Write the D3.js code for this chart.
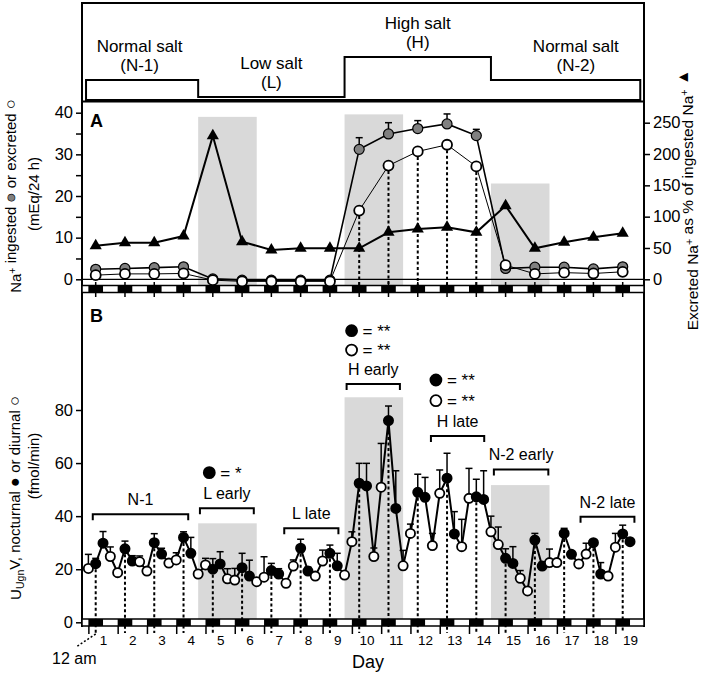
<!DOCTYPE html>
<html>
<head>
<meta charset="utf-8">
<script src="https://cdn.jsdelivr.net/npm/d3@7"></script>
<style>
  body { margin: 0; background: #fff; }
  svg { font-family: "Liberation Sans", Arial, sans-serif; }
</style>
</head>
<body>
<svg id="chart" width="709" height="674"></svg>
<script>
// ---------- data ----------
var days = d3.range(1, 20);

// panel A : Na+ ingested (grey) / excreted (open), mEq/24 h ; excreted as % of ingested (triangles)
var naIngested    = [2.4, 2.6, 2.8, 3.0, 0.1, -0.2, -0.2, -0.2, -0.2, 31.2, 34.9, 36.2, 37.3, 34.5, 2.6, 2.9, 2.9, 2.5, 3.0];
var naIngestedErr = [0.3, 0.3, 0.3, 0.3, 0, 0, 0, 0, 0, 2.8, 2.7, 1.9, 2.4, 1.5, 0.4, 0.3, 0.3, 0.3, 0.3];
var naExcreted    = [1.0, 1.3, 1.3, 1.4, -0.2, -0.5, -0.5, -0.5, -0.5, 16.5, 27.3, 30.7, 32.3, 27.1, 3.4, 1.3, 1.6, 1.4, 1.8];
var naPercent     = [53.6, 58.4, 58.4, 69, 229, 60, 46.8, 49.5, 49.5, 49.5, 75, 80.3, 83, 75, 117.5, 49.5, 59, 67, 73.4];
var dottedDaysA   = [10, 11, 12, 13, 14];

// panel B : UUgnV every 6 h starting at day 0.75 (fmol/min)
var bStart = 0.75, bStep = 0.25;
var ugnV = [20.3, 22.1, 29.8, 24.8, 18.7, 27.7, 23.1, 22.8, 19.3, 30.0,
            25.7, 22.3, 23.5, 32.0, 26.0, 18.2, 21.6, 20.0, 22.0, 16.4,
            15.9, 20.6, 17.4, 15.3, 17.0, 19.5, 18.2, 14.7, 21.2, 27.9,
            19.3, 17.4, 23.1, 26.0, 21.3, 17.8, 30.4, 52.4, 51.4, 24.8,
            50.9, 76.0, 42.9, 21.3, 33.5, 49.0, 47.1, 28.9, 48.6, 54.3,
            33.3, 28.5, 46.7, 47.3, 46.3, 34.1, 29.3, 24.1, 22.2, 16.6,
            11.8, 31.0, 21.2, 22.5, 22.5, 33.5, 25.6, 22.0, 25.7, 30.0,
            18.2, 17.4, 28.3, 33.3, 30.4];
var ugnVErr = [5.3, 2, 4.4, 3.6, 1, 2.9, 2, 2.2, 1, 3.4,
               2.2, 1, 2.7, 2.1, 6, 1, 2.5, 4, 4.6, 3.8,
               4.4, 5.4, 6, 1.5, 7.7, 2.7, 2, 1, 2.3, 3.4,
               1.5, 1, 4.1, 3.1, 4.7, 1, 3.7, 7.5, 8.5, 3.2,
               16.5, 5.5, 14.2, 5.8, 3.5, 6.8, 7.5, 4.6, 8.8, 9.4,
               8.4, 10.3, 11.3, 6.6, 10.8, 5.9, 6.6, 3.6, 6.3, 2.9,
               1, 2.5, 1.5, 5.1, 1, 1.9, 1, 1, 4.1, 1,
               4.3, 1, 5.2, 3.3, 1];

// diet phases (header)
var phaseNames = ["Normal salt", "Low salt", "High salt", "Normal salt"];
var phaseCodes = ["(N-1)", "(L)", "(H)", "(N-2)"];
var phaseStart = [0.67, 4.5, 9.5, 14.5];
var phaseEnd   = [4.5, 9.5, 14.5, 19.6];
var phaseLevel = ["normal", "low", "high", "normal"];
var phaseLabelDay = [2.5, 7, 12, 17.4];

// shaded periods (start day, end day, top value)
var shadeStart = [4.5, 9.5, 14.5];
var shadeEnd   = [6.5, 11.5, 16.5];
var shadeTopA  = [39.0, 39.6, 23.0];
var shadeTopB  = [37.3, 84.8, 51.7];

// brackets in panel B
var brLabels = ["N-1", "L early", "L late", "H early", "H late", "N-2 early", "N-2 late"];
var brStart  = [0.9, 4.56, 7.44, 9.57, 12.45, 14.6, 17.56];
var brEnd    = [4.16, 6.4, 9.29, 11.39, 14.27, 16.46, 19.4];
var brLevel  = [40.7, 43, 35.4, 89.8, 70.2, 57.6, 39.8];

// significance marks in panel B
var sigDay   = [4.88, 9.74, 9.74, 12.62, 12.62];
var sigLevel = [56.4, 109.9, 102.6, 91.3, 83.5];
var sigKind  = ["noct", "noct", "diur", "noct", "diur"];
var sigText  = ["= *", "= **", "= **", "= **", "= **"];

// ---------- layout ----------
var svg = d3.select("#chart");
var left = 82, right = 644;
var shadeColor = "#d9d9d9";

var x = d3.scaleLinear().domain([1, 19]).range([95.7, 622.7]);
var yA = d3.scaleLinear().domain([0, 40]).range([279.3, 112.7]);
var yPct = d3.scaleLinear().domain([0, 250]).range([279.3, 122.7]);
var yB = d3.scaleLinear().domain([0, 80]).range([622.3, 410]);
var levelY = d3.scaleOrdinal().domain(["high", "normal", "low"]).range([57, 80, 97]);

var bandA = 285.5, bandB = 619, bandH = 7;

// shading
for (var i = 0; i < shadeStart.length; i++) {
    svg.append("rect")
        .attr("x", x(shadeStart[i])).attr("width", x(shadeEnd[i]) - x(shadeStart[i]))
        .attr("y", yA(shadeTopA[i])).attr("height", bandA - yA(shadeTopA[i]))
        .attr("fill", shadeColor);
    svg.append("rect")
        .attr("x", x(shadeStart[i])).attr("width", x(shadeEnd[i]) - x(shadeStart[i]))
        .attr("y", yB(shadeTopB[i])).attr("height", bandB - yB(shadeTopB[i]))
        .attr("fill", shadeColor);
}

// ---------- header ----------
var stepPath = "M" + x(phaseStart[0]) + ",100";
for (var i = 0; i < phaseStart.length; i++) {
    stepPath += "V" + levelY(phaseLevel[i]) + "H" + x(phaseEnd[i]);
}
stepPath += "V100Z";
svg.append("path").attr("d", stepPath).attr("fill", "none")
    .attr("stroke", "#000").attr("stroke-width", 2);

var hdr = svg.append("g").attr("font-size", 17).attr("text-anchor", "middle");
for (var i = 0; i < phaseNames.length; i++) {
    var ly = levelY(phaseLevel[i]);
    hdr.append("text").attr("x", x(phaseLabelDay[i])).attr("y", ly - 28).text(phaseNames[i]);
    hdr.append("text").attr("x", x(phaseLabelDay[i])).attr("y", ly - 9).text(phaseCodes[i]);
}

// frame
svg.append("path")
    .attr("d", "M" + left + ",627V3H" + right + "V627M" + left + ",101.5H" + right)
    .attr("fill", "none").attr("stroke", "#000").attr("stroke-width", 2);

// ---------- day/night bands ----------
function drawBand(y0) {
    var g = svg.append("g");
    g.append("rect").attr("x", left).attr("y", y0).attr("width", right - left).attr("height", bandH)
        .attr("fill", "#fff").attr("stroke", "#000").attr("stroke-width", 1.5);
    g.selectAll("rect.night").data(d3.range(1, 21)).enter().append("rect")
        .attr("class", "night")
        .attr("x", d => Math.max(left, x(d - 0.25)))
        .attr("width", d => Math.min(right, x(d + 0.25)) - Math.max(left, x(d - 0.25)))
        .attr("y", y0).attr("height", bandH)
        .attr("fill", "#000");
}

// ---------- panel A ----------
svg.append("line").attr("x1", left).attr("x2", right).attr("y1", yA(0)).attr("y2", yA(0))
    .attr("stroke", "#000").attr("stroke-width", 1.2);

// dotted drop lines
svg.selectAll("line.dropA").data(dottedDaysA).enter().append("line")
    .attr("x1", d => x(d)).attr("x2", d => x(d))
    .attr("y1", d => yA(naExcreted[d - 1])).attr("y2", bandA + bandH)
    .attr("stroke", "#000").attr("stroke-width", 2).attr("stroke-dasharray", "3,2.5");

drawBand(bandA);
svg.selectAll("line.tickA").data(days).enter().append("line")
    .attr("x1", d => x(d)).attr("x2", d => x(d)).attr("y1", 282).attr("y2", 297)
    .attr("stroke", "#000").attr("stroke-width", 1.5);

svg.append("path").datum(naPercent)
    .attr("d", d3.line().x((d, i) => x(days[i])).y(d => yPct(d)))
    .attr("fill", "none").attr("stroke", "#000").attr("stroke-width", 2);
svg.append("path").datum(naIngested)
    .attr("d", d3.line().x((d, i) => x(days[i])).y(d => yA(d)))
    .attr("fill", "none").attr("stroke", "#000").attr("stroke-width", 1.6);
svg.append("path").datum(naExcreted)
    .attr("d", d3.line().x((d, i) => x(days[i])).y(d => yA(d)))
    .attr("fill", "none").attr("stroke", "#000").attr("stroke-width", 1);

// error bars on ingested
var errA = svg.append("g").attr("stroke", "#000").attr("stroke-width", 1.5);
naIngested.forEach(function (v, i) {
    if (naIngestedErr[i] < 1) return;
    var cx = x(days[i]), y1 = yA(v), y2 = yA(v + naIngestedErr[i]);
    errA.append("line").attr("x1", cx).attr("x2", cx).attr("y1", y1).attr("y2", y2);
    errA.append("line").attr("x1", cx - 3.5).attr("x2", cx + 3.5).attr("y1", y2).attr("y2", y2);
});

svg.selectAll("path.tri").data(naPercent).enter().append("path")
    .attr("d", d3.symbol(d3.symbolTriangle).size(64))
    .attr("transform", (d, i) => "translate(" + x(days[i]) + "," + yPct(d) + ")")
    .attr("fill", "#000");
svg.selectAll("circle.ing").data(naIngested).enter().append("circle")
    .attr("cx", (d, i) => x(days[i])).attr("cy", d => yA(d)).attr("r", 5)
    .attr("fill", "#808080").attr("stroke", "#000").attr("stroke-width", 1.2);
svg.selectAll("circle.exc").data(naExcreted).enter().append("circle")
    .attr("cx", (d, i) => x(days[i])).attr("cy", d => yA(d)).attr("r", 5)
    .attr("fill", "#fff").attr("stroke", "#000").attr("stroke-width", 1.8);

// axes A
var axL = svg.append("g").attr("transform", "translate(" + left + ",0)")
    .call(d3.axisLeft(yA).tickValues(d3.range(0, 41, 5)).tickSize(6)
        .tickFormat(d => d % 10 === 0 ? d : ""));
var axR = svg.append("g").attr("transform", "translate(" + right + ",0)")
    .call(d3.axisRight(yPct).tickValues(d3.range(0, 251, 50)).tickSize(6));

svg.append("text").attr("x", 90).attr("y", 127).attr("font-size", 18)
    .attr("font-weight", "bold").text("A");

// ---------- panel B ----------
var bTimes = ugnV.map((v, i) => bStart + i * bStep);
var isNoct = t => { var f = t % 1; return f < 0.01 || Math.abs(f - 0.25) < 0.01; };

// dotted drop lines at midnight
var midIdx = bTimes.map((t, i) => i).filter(i => Math.abs(bTimes[i] % 1) < 0.01);
svg.selectAll("line.dropB").data(midIdx).enter().append("line")
    .attr("x1", i => x(bTimes[i])).attr("x2", i => x(bTimes[i]))
    .attr("y1", i => yB(ugnV[i])).attr("y2", 633)
    .attr("stroke", "#000").attr("stroke-width", 2).attr("stroke-dasharray", "3,2.5");

drawBand(bandB);

// bottom ticks (6 pm) and day labels
var axDay = svg.append("g").attr("transform", "translate(0," + (bandB + bandH) + ")")
    .call(d3.axisBottom(x).tickValues(d3.range(0, 19).map(d => d + 0.75)).tickSize(8).tickFormat(""));
axDay.select(".domain").remove();
axDay.selectAll("line").attr("stroke-width", 1.5);
var axDayLab = svg.append("g").attr("transform", "translate(0,632)")
    .call(d3.axisBottom(x).tickValues(days.map(d => d + 0.25)).tickSize(0)
        .tickFormat(d => String(Math.round(d - 0.25))));
axDayLab.select(".domain").remove();
axDayLab.selectAll("text").attr("font-size", 13.5).attr("font-family", "Liberation Sans, Arial, sans-serif")
    .attr("fill", "#000");

// error bars
var errB = svg.append("g").attr("stroke", "#000").attr("stroke-width", 1.5);
ugnV.forEach(function (v, i) {
    var cx = x(bTimes[i]), y1 = yB(v), y2 = yB(v + ugnVErr[i]);
    errB.append("line").attr("x1", cx).attr("x2", cx).attr("y1", y1).attr("y2", y2);
    errB.append("line").attr("x1", cx - 3.5).attr("x2", cx + 3.5).attr("y1", y2).attr("y2", y2);
});

svg.append("path").datum(ugnV)
    .attr("d", d3.line().x((d, i) => x(bTimes[i])).y(d => yB(d)))
    .attr("fill", "none").attr("stroke", "#000").attr("stroke-width", 2);

svg.selectAll("circle.ugn").data(ugnV).enter().append("circle")
    .attr("cx", (d, i) => x(bTimes[i])).attr("cy", d => yB(d)).attr("r", 4.6)
    .attr("fill", (d, i) => isNoct(bTimes[i]) ? "#000" : "#fff")
    .attr("stroke", "#000").attr("stroke-width", 1.8);

var axB = svg.append("g").attr("transform", "translate(" + left + ",0)")
    .call(d3.axisLeft(yB).tickValues([0, 20, 40, 60, 80]).tickSize(6));

[axL, axR, axB].forEach(function (g) {
    g.select(".domain").remove();
    g.selectAll("line").attr("stroke-width", 1.5);
    g.selectAll("text").attr("font-size", 16.5).attr("fill", "#000")
        .attr("font-family", "Liberation Sans, Arial, sans-serif");
});

svg.append("text").attr("x", 90).attr("y", 322).attr("font-size", 18)
    .attr("font-weight", "bold").text("B");

// brackets
var br = svg.append("g");
brLabels.forEach(function (lab, i) {
    var y0 = yB(brLevel[i]), x1 = x(brStart[i]), x2 = x(brEnd[i]);
    br.append("path").attr("d", "M" + x1 + "," + (y0 + 6) + "V" + y0 + "H" + x2 + "V" + (y0 + 6))
        .attr("fill", "none").attr("stroke", "#000").attr("stroke-width", 2);
    br.append("text").attr("x", (x1 + x2) / 2).attr("y", y0 - 9)
        .attr("text-anchor", "middle").attr("font-size", 16).text(lab);
});

// significance marks
sigDay.forEach(function (d, i) {
    var cx = x(d), cy = yB(sigLevel[i]);
    svg.append("circle").attr("cx", cx).attr("cy", cy).attr("r", 5.5)
        .attr("fill", sigKind[i] === "noct" ? "#000" : "#fff")
        .attr("stroke", "#000").attr("stroke-width", 1.8);
    svg.append("text").attr("x", cx + 11).attr("y", cy).attr("dy", "0.35em")
        .attr("font-size", 17).text(sigText[i]);
});

// ---------- axis titles ----------
function sup(t, s) {
    t.append("tspan").attr("dy", "-0.45em").attr("font-size", "0.7em").text(s);
    t.append("tspan").attr("dy", "0.45em").text("");
}
var tA = svg.append("text").attr("transform", "translate(21,196) rotate(-90)")
    .attr("text-anchor", "middle").attr("font-size", 15);
tA.append("tspan").text("Na");
sup(tA, "+");
tA.append("tspan").text(" ingested ");
tA.append("tspan").attr("fill", "#808080").attr("stroke", "#000").attr("stroke-width", 0.6)
    .attr("font-size", "1.1em").text("●");
tA.append("tspan").text(" or excreted ");
tA.append("tspan").attr("font-size", "1.1em").text("○");
svg.append("text").attr("transform", "translate(39,194) rotate(-90)")
    .attr("text-anchor", "middle").attr("font-size", 15).text("(mEq/24 h)");

var tR = svg.append("text").attr("transform", "translate(698,200) rotate(-90)")
    .attr("text-anchor", "middle").attr("font-size", 15.5);
tR.append("tspan").text("Excreted Na");
sup(tR, "+");
tR.append("tspan").text(" as % of ingested Na");
sup(tR, "+");
tR.append("tspan").text(" ▲");

var tB = svg.append("text").attr("transform", "translate(21,498) rotate(-90)")
    .attr("text-anchor", "middle").attr("font-size", 15);
tB.append("tspan").text("U");
tB.append("tspan").attr("dy", "0.3em").attr("font-size", "0.7em").text("Ugn");
tB.append("tspan").attr("dy", "-0.3em").text("V, nocturnal ");
tB.append("tspan").attr("font-size", "1.1em").text("●");
tB.append("tspan").text(" or diurnal ");
tB.append("tspan").attr("font-size", "1.1em").text("○");
svg.append("text").attr("transform", "translate(39,466) rotate(-90)")
    .attr("text-anchor", "middle").attr("font-size", 15).text("(fmol/min)");

// 12 am pointer and Day title
svg.append("line").attr("x1", x(1)).attr("y1", 634).attr("x2", 76).attr("y2", 647)
    .attr("stroke", "#000").attr("stroke-width", 1.5).attr("stroke-dasharray", "2,2");
svg.append("text").attr("x", 52).attr("y", 664).attr("font-size", 16).text("12 am");
svg.append("text").attr("x", 352).attr("y", 668).attr("font-size", 18).text("Day");
</script>
</body>
</html>
